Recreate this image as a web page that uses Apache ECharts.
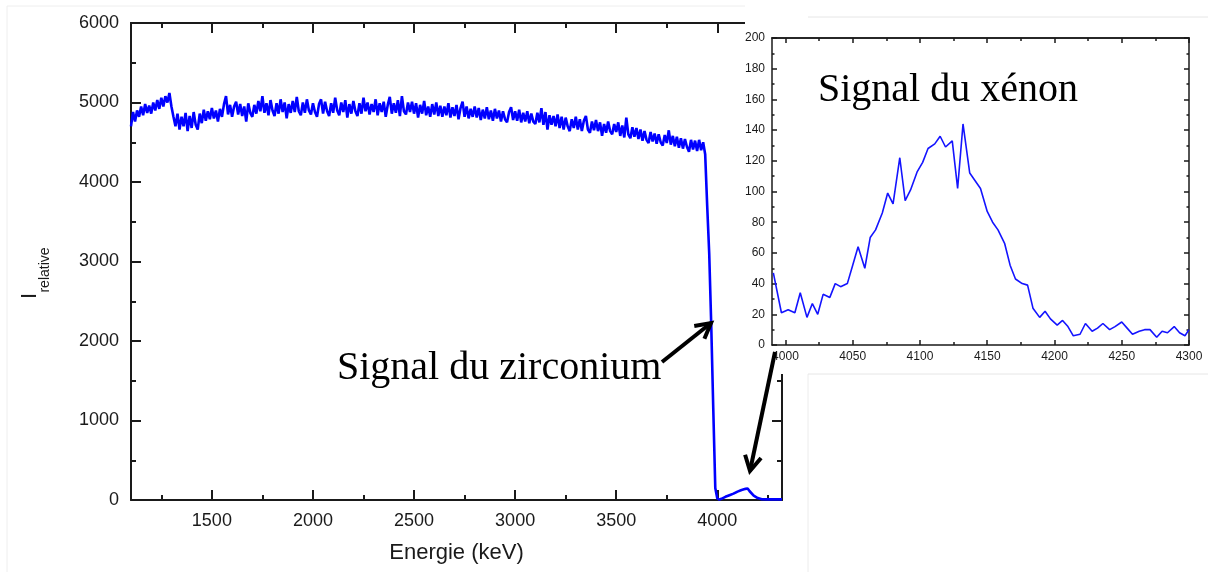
<!DOCTYPE html>
<html>
<head>
<meta charset="utf-8">
<title>Signal du zirconium / xénon</title>
<script src="https://cdn.jsdelivr.net/npm/echarts@6/dist/echarts.min.js"></script>
<style>
  html, body { margin: 0; padding: 0; background: #fff; }
  #chart { width: 1208px; height: 572px; }
</style>
</head>
<body>
<div id="chart"></div>
<script>
// main spectrum (keV / relative intensity)
var mainEnergy = [
  1100,1110,1120,1130,1140,1150,1160,1170,1180,1190,
  1200,1210,1220,1230,1240,1250,1260,1270,1280,1290,
  1300,1310,1320,1330,1340,1350,1360,1370,1380,1390,
  1400,1410,1420,1430,1440,1450,1460,1470,1480,1490,
  1500,1510,1520,1530,1540,1550,1560,1570,1580,1590,
  1600,1610,1620,1630,1640,1650,1660,1670,1680,1690,
  1700,1710,1720,1730,1740,1750,1760,1770,1780,1790,
  1800,1810,1820,1830,1840,1850,1860,1870,1880,1890,
  1900,1910,1920,1930,1940,1950,1960,1970,1980,1990,
  2000,2010,2020,2030,2040,2050,2060,2070,2080,2090,
  2100,2110,2120,2130,2140,2150,2160,2170,2180,2190,
  2200,2210,2220,2230,2240,2250,2260,2270,2280,2290,
  2300,2310,2320,2330,2340,2350,2360,2370,2380,2390,
  2400,2410,2420,2430,2440,2450,2460,2470,2480,2490,
  2500,2510,2520,2530,2540,2550,2560,2570,2580,2590,
  2600,2610,2620,2630,2640,2650,2660,2670,2680,2690,
  2700,2710,2720,2730,2740,2750,2760,2770,2780,2790,
  2800,2810,2820,2830,2840,2850,2860,2870,2880,2890,
  2900,2910,2920,2930,2940,2950,2960,2970,2980,2990,
  3000,3010,3020,3030,3040,3050,3060,3070,3080,3090,
  3100,3110,3120,3130,3140,3150,3160,3170,3180,3190,
  3200,3210,3220,3230,3240,3250,3260,3270,3280,3290,
  3300,3310,3320,3330,3340,3350,3360,3370,3380,3390,
  3400,3410,3420,3430,3440,3450,3460,3470,3480,3490,
  3500,3510,3520,3530,3540,3550,3560,3570,3580,3590,
  3600,3610,3620,3630,3640,3650,3660,3670,3680,3690,
  3700,3710,3720,3730,3740,3750,3760,3770,3780,3790,
  3800,3810,3820,3830,3840,3850,3860,3870,3880,3890,
  3900,3910,3920,3930,
  3940,3950,3960,3970,3980,3990,4000,4010,
  4020,4040,4060,4080,4100,4120,4140,4150,4160,4180,4200,4220,4250,4280,4320
];
var mainCounts = [
  4700,4880,4760,4900,4820,4950,4840,4980,4870,4960,
  4860,5000,4900,5030,4920,5060,4950,5080,5000,5120,
  4950,4820,4700,4860,4660,4820,4700,4870,4640,4830,
  4680,4880,4720,4660,4860,4740,4910,4770,4890,4790,
  4930,4800,4900,4760,4920,4820,4980,5080,4850,4970,
  4820,4950,5010,4850,4980,4830,4950,4760,4990,4870,
  4820,4970,4860,5020,4890,5080,4870,4990,4840,5030,
  4900,4830,4990,4860,5040,4880,5000,4800,4980,4870,
  5020,4880,5070,4890,4840,5000,4870,5040,4900,4850,
  4990,4880,4820,4980,5040,4860,5010,4890,4830,4990,
  4870,5060,4900,4840,5000,4880,5030,4810,4980,4860,
  5020,4890,4830,4990,4860,5060,4890,5000,4850,4980,
  4880,5040,4840,4990,4880,5010,4820,4970,5070,4860,
  4990,4870,5030,4830,5080,4890,4850,5000,4880,5010,
  4860,4990,4810,4970,4860,5020,4840,4950,4820,4980,
  4850,5000,4830,4960,4820,4950,4840,4990,4810,4940,
  4830,4970,4790,4930,5010,4820,4950,4800,4920,4820,
  4950,4810,4930,4780,4910,4800,4940,4790,4900,4770,
  4920,4800,4900,4760,4890,4790,4750,4880,4940,4780,
  4890,4770,4910,4750,4870,4760,4890,4740,4860,4760,
  4730,4870,4750,4930,4720,4880,4660,4840,4720,4830,
  4700,4850,4680,4820,4660,4810,4700,4640,4790,4680,
  4820,4660,4790,4640,4770,4830,4660,4620,4760,4650,
  4780,4640,4750,4580,4730,4620,4760,4640,4600,4730,
  4630,4750,4580,4710,4560,4810,4600,4550,4690,4570,
  4680,4540,4660,4520,4640,4530,4490,4630,4510,4610,
  4480,4600,4500,4460,4590,4490,4650,4470,4580,4450,
  4570,4430,4550,4420,4540,4440,4380,4530,4410,4520,
  4390,4530,4400,4500,
  4350,3700,3100,2200,1150,150,20,5,
  15,40,60,80,105,125,140,145,110,55,25,10,8,8,8
];

// inset: xenon peak
var xenonEnergy = [
  3991,3997,4002,4007,4011,4016,4020,4024,4028,4033,
  4037,4041,4046,4050,4054,4059,4063,4067,4072,4076,
  4080,4085,4089,4093,4098,4102,4106,4111,4115,4119,
  4124,4128,4132,4137,4141,4145,4150,4154,4158,4163,
  4167,4171,4176,4180,4184,4189,4193,4197,4202,4206,
  4210,4214,4219,4223,4228,4232,4236,4241,4245,4250,
  4254,4258,4263,4267,4271,4276,4280,4284,4289,4293,
  4297,4300
];
var xenonCounts = [
  47,21,23,21,34,18,27,20,33,31,
  40,38,40,52,64,50,70,75,86,99,
  92,122,94,101,113,119,128,131,136,129,
  133,102,144,112,107,102,87,80,75,66,
  52,43,40,39,24,18,22,17,13,16,
  12,6,7,14,9,11,14,10,12,15,
  11,7,9,10,10,5,9,8,12,8,
  6,10
];

// tick labels
var mainMajorTicks = [1500, 2000, 2500, 3000, 3500, 4000];
var mainMinorTicks = [1250, 1750, 2250, 2750, 3250, 3750, 4250];
var insetMajorTicks = [4000, 4050, 4100, 4150, 4200, 4250, 4300];
var insetMinorTicks = [4025, 4075, 4125, 4175, 4225, 4275];

var SANS = '"Liberation Sans", Arial, sans-serif';
var SERIF = '"Liberation Serif", "Times New Roman", serif';
var INK = '#1a1a1a';

function pairs(xs, ys) {
  return xs.map(function (x, i) { return [x, ys[i]]; });
}
function plain(v) { return String(v); }

// open arrow head (two strokes) at tip
function arrowHead(tail, tip, len, ang) {
  var a = Math.atan2(tail[1] - tip[1], tail[0] - tip[0]);
  return [
    [tip[0] + len * Math.cos(a + ang), tip[1] + len * Math.sin(a + ang)],
    tip,
    [tip[0] + len * Math.cos(a - ang), tip[1] + len * Math.sin(a - ang)]
  ];
}

function xAx(grid, min, max, pos, ticks, len, labels, z, lw, extra) {
  var o = {
    type: 'value', gridIndex: grid, min: min, max: max, position: pos, zlevel: z,
    axisLine: { show: !!labels || pos === 'top', onZero: false, lineStyle: { color: INK, width: lw } },
    axisTick: { show: true, inside: true, length: len, customValues: ticks, lineStyle: { color: INK, width: lw } },
    axisLabel: { show: false },
    splitLine: { show: false }
  };
  if (labels) {
    o.axisLabel = Object.assign({ show: true, customValues: ticks, color: INK, fontFamily: SANS, formatter: plain }, labels);
  }
  return Object.assign(o, extra || {});
}

function yAx(grid, min, max, interval, pos, len, labels, z, lw) {
  return {
    type: 'value', gridIndex: grid, min: min, max: max, interval: interval, position: pos, zlevel: z,
    axisLine: { show: true, onZero: false, lineStyle: { color: INK, width: lw } },
    axisTick: { show: true, inside: true, length: len, lineStyle: { color: INK, width: lw } },
    minorTick: { show: true, splitNumber: 2, length: len / 2, lineStyle: { color: INK, width: lw } },
    axisLabel: labels ? Object.assign({ show: true, color: INK, fontFamily: SANS, formatter: plain }, labels) : { show: false },
    splitLine: { show: false }
  };
}

var zrTail = [662, 362], zrTip = [711, 323];
var xeTail = [775, 352], xeTip = [750, 471];

var chart = echarts.init(document.getElementById('chart'), null, { renderer: 'canvas' });

var option = {
  backgroundColor: '#fff',
  animation: false,
  grid: [
    { left: 131, top: 23, width: 651, height: 477 },
    { left: 772, top: 38, width: 417, height: 307, zlevel: 1 }
  ],
  xAxis: [
    xAx(0, 1100, 4320, 'bottom', mainMajorTicks, 10, { fontSize: 18, margin: 12 }, 0, 2, {
      name: 'Energie (keV)', nameLocation: 'middle', nameGap: 42,
      nameTextStyle: { fontSize: 22, color: INK, fontFamily: SANS }
    }),
    xAx(0, 1100, 4320, 'bottom', mainMinorTicks, 5, null, 0, 2),
    xAx(0, 1100, 4320, 'top', mainMajorTicks, 10, null, 0, 2),
    xAx(0, 1100, 4320, 'top', mainMinorTicks, 5, null, 0, 2),
    xAx(1, 3990, 4300, 'bottom', insetMajorTicks, 5, { fontSize: 12, margin: 6 }, 1, 1.5),
    xAx(1, 3990, 4300, 'bottom', insetMinorTicks, 3, null, 1, 1.5),
    xAx(1, 3990, 4300, 'top', insetMajorTicks, 5, null, 1, 1.5),
    xAx(1, 3990, 4300, 'top', insetMinorTicks, 3, null, 1, 1.5)
  ],
  yAxis: [
    yAx(0, 0, 6000, 1000, 'left', 10, { fontSize: 18, margin: 12 }, 0, 2),
    yAx(0, 0, 6000, 1000, 'right', 10, null, 0, 2),
    yAx(1, 0, 200, 20, 'left', 5, { fontSize: 12, margin: 7 }, 1, 1.5),
    yAx(1, 0, 200, 20, 'right', 5, null, 1, 1.5)
  ],
  series: [
    {
      type: 'line', xAxisIndex: 0, yAxisIndex: 0, showSymbol: false, zlevel: 0, z: 3,
      lineStyle: { color: '#0000ff', width: 2.6 },
      data: pairs(mainEnergy, mainCounts)
    },
    {
      type: 'line', xAxisIndex: 4, yAxisIndex: 2, showSymbol: false, zlevel: 1, z: 3,
      lineStyle: { color: '#1414ff', width: 1.6 },
      data: pairs(xenonEnergy, xenonCounts)
    }
  ],
  graphic: [
    // white card of the inset, hides the top-right of the main frame
    { type: 'rect', zlevel: 1, z: -10, shape: { x: 745, y: 17, width: 470, height: 357 }, style: { fill: '#fff' } },
    { type: 'line', zlevel: 1, z: -9, shape: { x1: 808, y1: 17, x2: 1208, y2: 17 }, style: { stroke: '#e6e6e6', lineWidth: 1 } },
    { type: 'line', zlevel: 1, z: -9, shape: { x1: 808, y1: 374, x2: 1208, y2: 374 }, style: { stroke: '#e6e6e6', lineWidth: 1 } },
    { type: 'line', zlevel: 0, shape: { x1: 808, y1: 374, x2: 808, y2: 572 }, style: { stroke: '#ececec', lineWidth: 1 } },
    { type: 'line', zlevel: 0, shape: { x1: 7, y1: 6, x2: 7, y2: 572 }, style: { stroke: '#eeeeee', lineWidth: 1 } },
    { type: 'line', zlevel: 0, shape: { x1: 7, y1: 6, x2: 745, y2: 6 }, style: { stroke: '#eeeeee', lineWidth: 1 } },
    // y axis title: I with subscript "relative"
    { type: 'text', zlevel: 2, x: 30, y: 296, rotation: Math.PI / 2,
      style: { text: 'I', fontSize: 22, fontFamily: SANS, fill: INK, align: 'center', verticalAlign: 'middle' } },
    { type: 'text', zlevel: 2, x: 45, y: 270, rotation: Math.PI / 2,
      style: { text: 'relative', fontSize: 14, fontFamily: SANS, fill: INK, align: 'center', verticalAlign: 'middle' } },
    // annotations
    { type: 'text', zlevel: 2, x: 337, y: 368,
      style: { text: 'Signal du zirconium', fontSize: 40, fontFamily: SERIF, fill: '#000', align: 'left', verticalAlign: 'middle' } },
    { type: 'text', zlevel: 2, x: 818, y: 90,
      style: { text: 'Signal du xénon', fontSize: 40, fontFamily: SERIF, fill: '#000', align: 'left', verticalAlign: 'middle' } },
    { type: 'polyline', zlevel: 2, shape: { points: [zrTail, zrTip] }, style: { stroke: '#000', lineWidth: 4, fill: null } },
    { type: 'polyline', zlevel: 2, shape: { points: arrowHead(zrTail, zrTip, 17, 0.5) }, style: { stroke: '#000', lineWidth: 4, fill: null, lineJoin: 'miter' } },
    { type: 'polyline', zlevel: 2, shape: { points: [xeTail, xeTip] }, style: { stroke: '#000', lineWidth: 4, fill: null } },
    { type: 'polyline', zlevel: 2, shape: { points: arrowHead(xeTail, xeTip, 17, 0.5) }, style: { stroke: '#000', lineWidth: 4, fill: null, lineJoin: 'miter' } }
  ]
};

chart.setOption(option);
</script>
</body>
</html>
